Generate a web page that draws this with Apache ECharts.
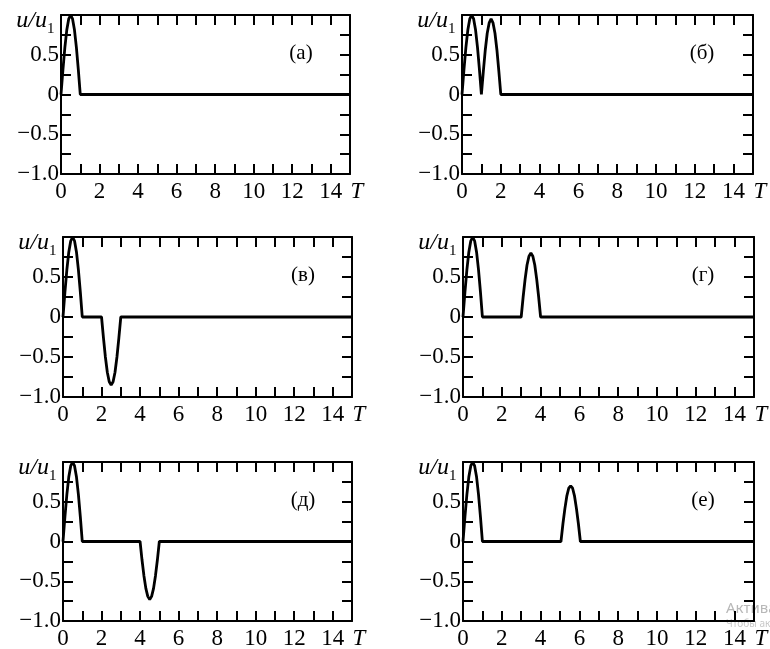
<!DOCTYPE html>
<html>
<head>
<meta charset="utf-8">
<script src="https://cdn.jsdelivr.net/npm/echarts@6/dist/echarts.min.js"></script>
<style>html,body{margin:0;padding:0;background:#fff;}#chart{width:770px;height:649px;}</style>
</head>
<body>
<div id="chart"></div>
<script>
// ---- data ----
const panelLabels = ['(а)', '(б)', '(в)', '(г)', '(д)', '(е)'];
const xLabelValues = [0, 2, 4, 6, 8, 10, 12, 14];
const xEndLabel = 'T';
const yLabelValues = [0.5, 0, -0.5, -1];
const yLabelTexts = ['0.5', '0', '−0.5', '−1.0'];

const seriesA = [[0,0],[0.1,0.31],[0.2,0.59],[0.3,0.81],[0.4,0.95],[0.5,1.0],[0.6,0.95],[0.7,0.81],[0.8,0.59],[0.9,0.31],[1.0,0],[15,0]];
const seriesB = [[0,0],[0.1,0.31],[0.2,0.59],[0.3,0.81],[0.4,0.95],[0.5,1.0],[0.6,0.95],[0.7,0.81],[0.8,0.59],[0.9,0.31],[1.0,0],
  [1.1,0.29],[1.2,0.56],[1.3,0.77],[1.4,0.90],[1.5,0.95],[1.6,0.90],[1.7,0.77],[1.8,0.56],[1.9,0.29],[2.0,0],[15,0]];
const seriesV = [[0,0],[0.1,0.31],[0.2,0.59],[0.3,0.81],[0.4,0.95],[0.5,1.0],[0.6,0.95],[0.7,0.81],[0.8,0.59],[0.9,0.31],[1.0,0],
  [2.0,0],[2.1,-0.26],[2.2,-0.50],[2.3,-0.69],[2.4,-0.81],[2.5,-0.85],[2.6,-0.81],[2.7,-0.69],[2.8,-0.50],[2.9,-0.26],[3.0,0],[15,0]];
const seriesG = [[0,0],[0.1,0.31],[0.2,0.59],[0.3,0.81],[0.4,0.95],[0.5,1.0],[0.6,0.95],[0.7,0.81],[0.8,0.59],[0.9,0.31],[1.0,0],
  [3.0,0],[3.1,0.25],[3.2,0.47],[3.3,0.65],[3.4,0.76],[3.5,0.80],[3.6,0.76],[3.7,0.65],[3.8,0.47],[3.9,0.25],[4.0,0],[15,0]];
const seriesD = [[0,0],[0.1,0.31],[0.2,0.59],[0.3,0.81],[0.4,0.95],[0.5,1.0],[0.6,0.95],[0.7,0.81],[0.8,0.59],[0.9,0.31],[1.0,0],
  [4.0,0],[4.1,-0.23],[4.2,-0.43],[4.3,-0.59],[4.4,-0.69],[4.5,-0.73],[4.6,-0.69],[4.7,-0.59],[4.8,-0.43],[4.9,-0.23],[5.0,0],[15,0]];
const seriesE = [[0,0],[0.1,0.31],[0.2,0.59],[0.3,0.81],[0.4,0.95],[0.5,1.0],[0.6,0.95],[0.7,0.81],[0.8,0.59],[0.9,0.31],[1.0,0],
  [5.05,0],[5.15,0.22],[5.25,0.41],[5.35,0.57],[5.45,0.67],[5.55,0.70],[5.65,0.67],[5.75,0.57],[5.85,0.41],[5.95,0.22],[6.05,0],[15,0]];
const allSeries = [seriesA, seriesB, seriesV, seriesG, seriesD, seriesE];

// ---- layout ----
const panels = [
  {left: 61,  top: 15,  width: 289, height: 159},
  {left: 462, top: 15,  width: 291, height: 159},
  {left: 63,  top: 237, width: 289, height: 160},
  {left: 463, top: 237, width: 291, height: 160},
  {left: 63,  top: 462, width: 289, height: 159},
  {left: 463, top: 462, width: 291, height: 159}
];
const FONT = 'Liberation Serif';

const option = {
  backgroundColor: '#ffffff',
  animation: false,
  grid: [], xAxis: [], yAxis: [], series: [], graphic: []
};

function xFmt(v) {
  if (Math.abs(v - 15) < 1e-9) return '{t|' + xEndLabel + '}';
  return xLabelValues.some(x => Math.abs(x - v) < 1e-9) ? String(Math.round(v)) : '';
}
function yFmt(v) {
  const i = yLabelValues.findIndex(y => Math.abs(y - v) < 1e-9);
  return i >= 0 ? yLabelTexts[i] : '';
}

panels.forEach((p, i) => {
  option.grid.push({left: p.left, top: p.top, width: p.width, height: p.height,
    containLabel: false, outerBoundsMode: 'none', show: false});
  const lineS = {color: '#000', width: 2};
  const tickS = {inside: true, length: 10, lineStyle: {color: '#000', width: 2}};
  const baseX = {gridIndex: i, type: 'value', min: 0, max: 15, interval: 1,
    axisLine: {show: true, onZero: false, lineStyle: lineS}, axisTick: tickS,
    splitLine: {show: false}};
  option.xAxis.push(Object.assign({}, baseX, {position: 'bottom',
    axisLabel: {margin: 6, fontFamily: FONT, fontSize: 23, color: '#000', formatter: xFmt,
      rich: {t: {fontFamily: FONT, fontStyle: 'italic', fontSize: 23, color: '#000', padding: [0, 0, 0, 14]}}}}));
  option.xAxis.push(Object.assign({}, baseX, {position: 'top', axisLabel: {show: false}}));
  const baseY = {gridIndex: i, type: 'value', min: -1, max: 1, interval: 0.25,
    axisLine: {show: true, onZero: false, lineStyle: lineS}, axisTick: tickS,
    splitLine: {show: false}};
  option.yAxis.push(Object.assign({}, baseY, {position: 'left',
    axisLabel: {margin: 2, fontFamily: FONT, fontSize: 23, color: '#000', formatter: yFmt}}));
  option.yAxis.push(Object.assign({}, baseY, {position: 'right', axisLabel: {show: false}}));

  option.series.push({type: 'line', xAxisIndex: 2 * i, yAxisIndex: 2 * i,
    data: allSeries[i], showSymbol: false, symbol: 'none', clip: false,
    lineStyle: {color: '#000', width: 2.8}, z: 5});

  option.graphic.push({type: 'text', x: p.left - 14, y: p.top - 6,
    style: {text: 'u/u', font: 'italic 24px "' + FONT + '"', fill: '#000', align: 'right', verticalAlign: 'top'}});
  option.graphic.push({type: 'text', x: p.left - 14, y: p.top + 7,
    style: {text: '1', font: '15px "' + FONT + '"', fill: '#000', align: 'left', verticalAlign: 'top'}});
  option.graphic.push({type: 'text', x: p.left + 240, y: p.top + 38,
    style: {text: panelLabels[i], font: '21px "' + FONT + '"', fill: '#000', align: 'center', verticalAlign: 'middle'}});
});

option.graphic.push({type: 'text', x: 726, y: 601,
  style: {text: 'Активация Windows', font: '15px "Noto Sans"', fill: '#b8b8b8', align: 'left', verticalAlign: 'top'}});
option.graphic.push({type: 'text', x: 726, y: 619,
  style: {text: 'Чтобы активировать Windows', font: '10px "Noto Sans"', fill: '#c8c8c8', align: 'left', verticalAlign: 'top'}});

const chart = echarts.init(document.getElementById('chart'), null, {renderer: 'canvas'});
chart.setOption(option);
</script>
</body>
</html>
